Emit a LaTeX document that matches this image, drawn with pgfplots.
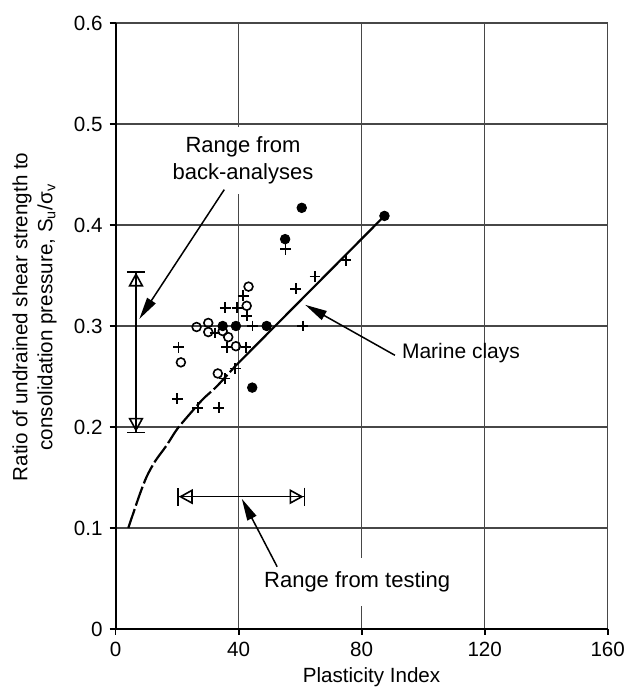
\documentclass[border=0pt]{standalone}
\usepackage{fontspec}
\setmainfont{Liberation Sans}
\usepackage{pgfplots}
\pgfplotsset{compat=1.18}
\usetikzlibrary{arrows.meta}

\begin{document}
\begin{tikzpicture}
\begin{axis}[
    scale only axis,
    width=246pt, height=303pt,
    xmin=0, xmax=160, ymin=0, ymax=0.6,
    xtick={0,40,80,120,160},
    ytick={0,0.1,0.2,0.3,0.4,0.5,0.6},
    grid=major,
    major grid style={line width=0.7pt, color=black!72},
    axis x line*=bottom, axis y line*=left,
    axis line style={line width=1pt, -},
    tick align=outside, major tick length=3pt,
    tick style={black, line width=0.8pt},
    ticklabel style={font=\fontsize{10.3}{12}\selectfont},
    /pgf/number format/assume math mode=true,
    clip=false,
]
\coordinate (O) at (rel axis cs:0,0);

% Marine clays trend: dashed part, then solid part
\addplot[line width=1.1pt, dash pattern=on 10pt off 1.8pt, no marks, smooth, tension=0.5] coordinates {
    (4.1,0.100) (5.7,0.1145) (7.9,0.134) (10.1,0.151) (12.8,0.166)
    (16.6,0.182) (20.0,0.198) (24.7,0.215) (28.5,0.228) (32.8,0.240) (38.8,0.260)
};
\addplot[line width=1.1pt, no marks] coordinates {(38.8,0.260) (87.4,0.409)};

% crosses
\addplot[only marks, mark=+, mark size=2.7pt, mark options={line width=0.9pt}] coordinates {
    (55.2,0.376) (74.8,0.365) (64.8,0.349) (58.6,0.337) (41.5,0.330)
    (35.6,0.318) (39.5,0.318) (42.6,0.310) (44.5,0.300) (60.8,0.300)
    (32.3,0.293) (36.1,0.279) (42.4,0.279) (20.4,0.279) (38.9,0.258)
    (35.5,0.248) (20.0,0.228) (26.7,0.219) (33.5,0.219)
};
% open circles
\addplot[only marks, mark=o, mark size=2.2pt, mark options={line width=0.8pt, fill=white}] coordinates {
    (43.2,0.339) (42.6,0.320) (26.3,0.299) (30.1,0.303) (30.1,0.294)
    (34.8,0.295) (36.6,0.289) (39.1,0.280) (21.2,0.264) (33.2,0.253)
};
% filled circles
\addplot[only marks, mark=*, mark size=2.4pt, mark options={fill=black}] coordinates {
    (60.5,0.417) (87.4,0.409) (55.1,0.386) (34.8,0.300) (39.1,0.300)
    (49.1,0.300) (44.4,0.239)
};

% labels
\node[fill=white, align=center, inner xsep=2pt, inner ysep=5pt,
      font=\fontsize{11}{13.5}\selectfont] at (axis cs:41.4,0.464) {Range from\\back-analyses};
\node[fill=white, inner xsep=2pt, inner ysep=7pt,
      font=\fontsize{11}{13}\selectfont] at (axis cs:78.5,0.0465) {Range from testing};
\node[anchor=west, inner sep=0pt, font=\fontsize{10.5}{12}\selectfont] at (axis cs:93.0,0.273) {Marine clays};

% range arrows
\draw[line width=0.8pt, {Bar[width=9pt]Triangle[open,length=7pt,width=7.5pt]}-{Triangle[open,length=7pt,width=7.5pt]Bar[width=9pt]}]
    (axis cs:6.6,0.1937) -- (axis cs:6.6,0.3545);
\draw[line width=0.8pt, {Bar[width=9pt]Triangle[open,length=7pt,width=7.5pt]}-{Triangle[open,length=7pt,width=7.5pt]Bar[width=9pt]}]
    (axis cs:20.0,0.131) -- (axis cs:61.6,0.131);

% pointer arrows
\draw[line width=0.75pt, -{Triangle[length=11pt,width=5pt]}] (axis cs:35.3,0.435) -- (axis cs:7.7,0.307);
\draw[line width=0.75pt, -{Triangle[length=11pt,width=5pt]}] (axis cs:90.8,0.271) -- (axis cs:61.6,0.321);
\draw[line width=0.75pt, -{Triangle[length=11pt,width=5pt]}] (axis cs:52.5,0.0617) -- (axis cs:41.0,0.129);

% axis titles
\node[rotate=90, align=center, font=\fontsize{10.3}{12.5}\selectfont] at (axis description cs:-0.165,0.515)
    {Ratio of undrained shear strength to\\consolidation pressure, S\textsubscript{u}/σ\textsubscript{v}};
\node[font=\fontsize{10.3}{12}\selectfont] at (axis description cs:0.52,-0.079) {Plasticity Index};
\end{axis}
\pgfresetboundingbox
\path (O) ++(-57.85pt,-30pt) rectangle ++(312.5pt,344.5pt);
\end{tikzpicture}
\end{document}
